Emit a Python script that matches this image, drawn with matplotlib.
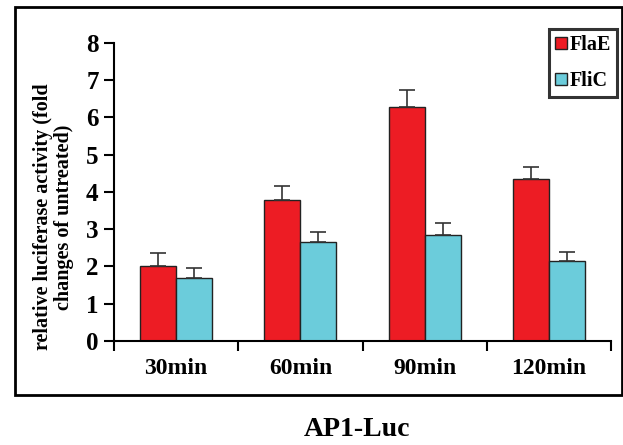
import matplotlib.pyplot as plt
import matplotlib.patches as mpatches
import numpy as np

# Data
categories = ['30min', '60min', '90min', '120min']
flae_values = [2.0, 3.78, 6.28, 4.35]
flae_errors = [0.36, 0.38, 0.47, 0.32]
flic_values = [1.68, 2.65, 2.84, 2.16]
flic_errors = [0.27, 0.28, 0.32, 0.24]
series_labels = ['FlaE', 'FliC']
yticks = [0, 1, 2, 3, 4, 5, 6, 7, 8]

red = '#ED1C24'
cyan = '#6BCCDB'

plt.rcParams['font.family'] = ['Liberation Serif', 'DejaVu Serif']
plt.rcParams['font.weight'] = 'bold'

fig = plt.figure(figsize=(6.23, 4.45), dpi=100)
ax = fig.add_axes([0.183, 0.2337, 0.798, 0.6697])

x = np.arange(len(categories))
width = 0.29
err_kw = dict(ecolor='#333333', elinewidth=1.2, capsize=6, capthick=1.2)
ax.bar(x - width / 2, flae_values, width, color=red, edgecolor='#222222',
       linewidth=1, yerr=[np.zeros(len(x)), flae_errors], error_kw=err_kw,
       label=series_labels[0], zorder=2)
ax.bar(x + width / 2, flic_values, width, color=cyan, edgecolor='#222222',
       linewidth=1, yerr=[np.zeros(len(x)), flic_errors], error_kw=err_kw,
       label=series_labels[1], zorder=2)

ax.set_xlim(-0.5, len(categories) - 0.5)
ax.set_ylim(0, 8)
ax.set_yticks(yticks)
ax.set_yticklabels([str(t) for t in yticks], fontsize=18, fontweight='bold')
ax.set_xticks(x)
ax.set_xticklabels(categories, fontsize=17, fontweight='bold')
ax.set_xticks(np.arange(len(categories) + 1) - 0.5, minor=True)
ax.tick_params(axis='x', which='major', length=0, pad=12)
ax.tick_params(axis='x', which='minor', length=7, width=1.5, direction='out')
ax.tick_params(axis='y', length=7, width=1.5, direction='out', pad=4)

for side in ['top', 'right']:
    ax.spines[side].set_visible(False)
for side in ['left', 'bottom']:
    ax.spines[side].set_linewidth(1.5)

ax.set_ylabel('relative luciferase activity (fold\nchanges of untreated)',
              fontsize=14.5, fontweight='bold', linespacing=1.05)
ax.yaxis.set_label_coords(-0.08, 0.416)

leg = ax.legend(loc='upper right', bbox_to_anchor=(1.012, 1.047),
                fontsize=14.5, frameon=True, fancybox=False,
                handlelength=0.6, handleheight=0.6, handletextpad=0.15,
                borderpad=0.3, labelspacing=0.8, borderaxespad=0.0)
leg.get_frame().set_edgecolor('black')
leg.get_frame().set_linewidth(2.2)
for txt in leg.get_texts():
    txt.set_fontweight('bold')

# outer frame around the chart
frame = mpatches.Rectangle((15 / 623, 1 - 395 / 445), (622 - 15) / 623,
                           (395 - 7) / 445, transform=fig.transFigure,
                           fill=False, edgecolor='black', linewidth=2)
fig.patches.append(frame)

fig.text(357 / 623, 1 - 430 / 445, 'AP1-Luc', ha='center', va='center',
         fontsize=20, fontweight='bold')

fig.savefig('out.png', dpi=100)
